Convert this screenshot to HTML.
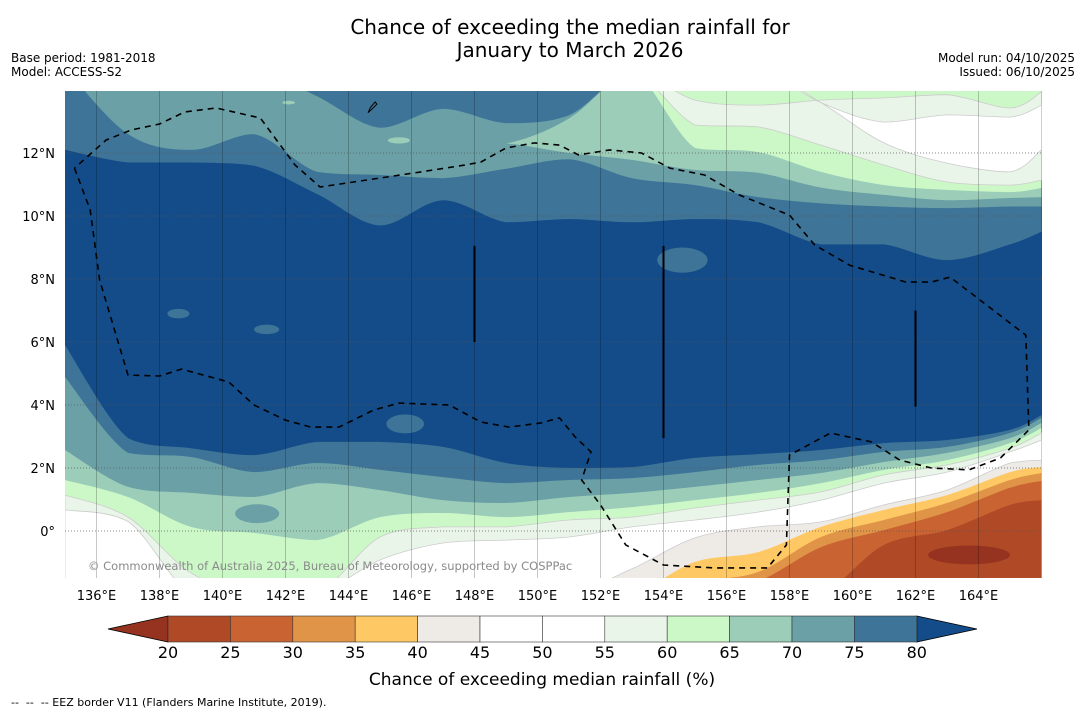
<!DOCTYPE html>
<html><head><meta charset="utf-8"><style>
html,body{margin:0;padding:0;background:#fff;}
svg{display:block;font-family:"DejaVu Sans","Liberation Sans",sans-serif;}
</style></head><body>
<svg id="chart" width="1085" height="713" viewBox="0 0 1085 713" xmlns="http://www.w3.org/2000/svg">
<text x="570" y="34" text-anchor="middle" font-size="20">Chance of exceeding the median rainfall for</text>
<text x="570" y="57" text-anchor="middle" font-size="20">January to March 2026</text>
<text x="11" y="62" font-size="12">Base period: 1981-2018</text>
<text x="11" y="76" font-size="12">Model: ACCESS-S2</text>
<text x="1075" y="62" text-anchor="end" font-size="12">Model run: 04/10/2025</text>
<text x="1075" y="76" text-anchor="end" font-size="12">Issued: 06/10/2025</text>
<defs><clipPath id="mapclip"><rect x="65" y="91" width="977" height="487"/></clipPath></defs>
<g id="map" clip-path="url(#mapclip)"></g>
<g id="axes"></g>
<g id="cbar"></g>
<text x="542" y="685" text-anchor="middle" font-size="17">Chance of exceeding median rainfall (%)</text>
<text x="11" y="706" font-size="11" style="white-space:pre">--  --  -- EEZ border V11 (Flanders Marine Institute, 2019).</text>
</svg>
<script>
const lons = [135,137,139,141,143,145,147,149,151,153,155,157,159,161,163,165,166];
const n80 = [12.1,11.7,11.7,11.6,10.7,9.7,10.5,9.8,9.9,9.8,9.9,9.8,9.1,9.1,8.6,9.1,9.5];
const n70top = [14.7,14.7,14.7,14.7,13.8,12.8,13.4,12.95,13.2,14.7,14.7,14.7,14.7,14.7,14.7,14.7,14.7];
const n70bot = [14.7,12.6,12.1,12.6,11.4,11.3,11.2,11.5,11.8,11.2,10.98,10.6,10.4,10.3,10.25,10.3,10.3];
const n65top = [12.3,12.3,12.3,12.3,12.3,12.3,12.3,12.3,13.1,14.7,14.7,14.7,14.7,14.7,14.7,14.7,14.7];
const n65bot = [12.3,12.3,12.3,12.3,12.3,12.3,12.3,12.3,12.0,11.78,11.46,11.37,10.9,10.67,10.5,10.57,10.6];
const n60top = [14.7,14.7,14.7,14.7,14.7,14.7,14.7,14.7,14.7,14.7,14.7,14.7,14.7,14.7,14.7,14.7,14.7];
const n60bot = [14.7,14.7,14.7,14.7,14.7,14.7,14.7,14.7,14.7,14.7,12.16,12.03,11.4,10.98,10.83,10.76,10.89];
const n55top = [14.7,14.7,14.7,14.7,14.7,14.7,14.7,14.7,14.7,14.7,13.68,13.52,13.68,13.75,13.85,13.43,13.94];
const n55bot = [14.7,14.7,14.7,14.7,14.7,14.7,14.7,14.7,14.7,14.7,12.89,12.83,12.25,11.62,11.08,10.98,11.14];
const n50top = [14.7,14.7,14.7,14.7,14.7,14.7,14.7,14.7,14.7,14.7,14.7,14.7,13.6,12.98,13.21,13.14,13.52];
const n50bot = [14.7,14.7,14.7,14.7,14.7,14.7,14.7,14.7,14.7,14.7,14.7,14.7,13.6,12.32,11.68,11.4,12.1];
const s80 = [5.9,2.95,2.63,2.41,2.83,2.83,2.67,2.16,2.0,2.03,2.32,2.44,2.57,2.79,2.89,3.21,3.68];
const s75 = [4.89,2.48,2.35,1.87,2.16,1.94,1.71,1.52,1.62,1.68,1.87,2.10,2.25,2.51,2.67,3.11,3.59];
const s70 = [2.57,1.40,1.21,1.08,1.52,1.30,0.98,0.89,1.08,1.21,1.40,1.62,1.84,2.19,2.48,2.95,3.43];
const s65 = [1.62,1.08,0.13,-0.06,-0.29,0.44,0.57,0.44,0.60,0.76,0.98,1.21,1.52,1.94,2.25,2.79,3.27];
const s60 = [1.14,0.44,-1.33,-2,-2,-0.19,0.13,0.13,0.35,0.44,0.73,0.98,1.24,1.78,2.10,2.63,3.11];
const s55 = [0.67,0.3,-2,-2,-2,-0.92,-0.38,-0.29,-0.19,0.13,0.35,0.60,0.98,1.52,1.87,2.51,2.89];
const s45 = [-2,-2,-2,-2,-2,-2,-2,-2,-2,-1.2,-0.22,0.13,0.29,0.83,1.30,2.16,2.25];
const s40 = [-2,-2,-2,-2,-2,-2,-2,-2,-2,-2,-0.98,-0.67,0.13,0.67,1.14,1.87,2.03];
const s35 = [-2,-2,-2,-2,-2,-2,-2,-2,-2,-2,-1.6,-1.3,-0.19,0.35,0.89,1.62,1.84];
const s30 = [-2,-2,-2,-2,-2,-2,-2,-2,-2,-2,-2,-1.6,-0.51,0.03,0.6,1.37,1.59];
const s25 = [-2,-2,-2,-2,-2,-2,-2,-2,-2,-2,-2,-2,-2,-0.44,0.03,0.83,0.98];
const patchLon = [154.6,138.6,141.4,145.8,141.1,163.7,145.6,142.1];
const patchLat = [8.6,6.9,6.4,3.4,0.55,-0.76,12.4,13.6];
const patchRLon = [0.8,0.35,0.4,0.6,0.7,1.3,0.35,0.2];
const patchRLat = [0.4,0.15,0.15,0.3,0.3,0.3,0.1,0.06];
const patchCat = ['75','75','75','75','70','lt20','65','65'];
const barLon = [148,154,162];
const barTop = [9.05,9.05,7.0];
const barBot = [6.0,2.95,3.95];
const eezLon = [135.3,135.8,136.1,137.0,138.0,138.7,140.2,141.0,142.0,142.8,143.7,144.8,145.6,147.2,148.2,149.1,150.1,150.7,151.2,151.7,151.4,152.0,152.8,154.0,155.6,157.3,157.9,158.0,159.3,160.6,161.5,162.5,163.7,164.7,165.6,165.5,163.1,162.5,161.7,159.9,158.8,158.0,156.4,155.3,154.2,153.3,152.3,151.3,150.7,149.9,149.0,148.2,147.7,146.3,143.1,142.3,141.2,139.8,138.8,138.0,137.1,136.3,135.3];
const eezLat = [11.52,10.19,7.97,4.95,4.92,5.14,4.73,4.0,3.52,3.30,3.30,3.84,4.06,4.0,3.46,3.30,3.43,3.59,2.98,2.51,1.62,0.83,-0.44,-1.08,-1.17,-1.17,-0.44,2.41,3.11,2.83,2.25,2.0,1.94,2.32,3.21,6.22,8.06,7.90,7.90,8.44,9.08,10.03,10.67,11.30,11.52,12.0,12.1,11.94,12.25,12.32,12.16,11.71,11.62,11.40,10.92,11.62,13.11,13.43,13.30,12.92,12.73,12.41,11.52];
const lonTicks = [136,138,140,142,144,146,148,150,152,154,156,158,160,162,164];
const latTicks = [0,2,4,6,8,10,12];
const cbarLevels = [20,25,30,35,40,45,50,55,60,65,70,75,80];

const COL = {lt20:'#953320','20':'#b04a26','25':'#c96432','30':'#e09448','35':'#fec964','40':'#eeebe6','45':'#ffffff','50':'#ffffff','55':'#eaf5ea','60':'#ccf8c8','65':'#9bcdb8','70':'#6aa0a6','75':'#3e7497','80':'#134c88'};
const NS='http://www.w3.org/2000/svg';
function X(lon){return 65+(lon-135)*31.5;}
function Y(lat){return 531-lat*31.5;}
function mk(tag,attrs,parent){const e=document.createElementNS(NS,tag);for(const k in attrs)e.setAttribute(k,attrs[k]);parent.appendChild(e);return e;}
function clamp(v,a,b){const lo=Math.min(a,b),hi=Math.max(a,b);return Math.max(lo,Math.min(hi,v));}
function seg(p){let d='';for(let i=0;i<p.length-1;i++){const p0=p[i-1]||p[i],p1=p[i],p2=p[i+1],p3=p[i+2]||p2;
 const c1=[p1[0]+(p2[0]-p0[0])/6,clamp(p1[1]+(p2[1]-p0[1])/6,p1[1],p2[1])],c2=[p2[0]-(p3[0]-p1[0])/6,clamp(p2[1]-(p3[1]-p1[1])/6,p1[1],p2[1])];
 d+=` C${c1[0].toFixed(1)},${c1[1].toFixed(1)} ${c2[0].toFixed(1)},${c2[1].toFixed(1)} ${p2[0].toFixed(1)},${p2[1].toFixed(1)}`;}return d;}
function bandPath(top,bot){const t=lons.map((l,i)=>[X(l),Y(top[i])]);const b=lons.map((l,i)=>[X(l),Y(bot[i])]).reverse();
 return `M${t[0][0]},${t[0][1]}`+seg(t)+` L${b[0][0]},${b[0][1]}`+seg(b)+'Z';}
const map=document.getElementById('map');
const bg=mk('rect',{x:65,y:91,width:977,height:487,fill:COL['80']},map);


const top14=lons.map(()=>14.7), bottom=lons.map(()=>-2.2);
const layers=[
 ['75',top14,n80,'north'],['70',n70top,n70bot,'north'],['65',n65top,n65bot,'north'],['60',n60top,n60bot,'north'],['55',n55top,n55bot,'north'],['50',n50top,n50bot,'north'],
 ['75',s80,bottom,'south'],['70',s75,bottom,'south'],['65',s70,bottom,'south'],['60',s65,bottom,'south'],['55',s60,bottom,'south'],['50',s55,bottom,'south'],
 ['40',s45,bottom,'south'],['35',s40,bottom,'south'],['30',s35,bottom,'south'],['25',s30,bottom,'south'],['20',s25,bottom,'south']];
layers.forEach(L=>{
 const light=(L[0]==='55'||L[0]==='50'||L[0]==='40');
 const p=mk('path',{d:bandPath(L[1],L[2]),fill:COL[L[0]],stroke:light?'#cccccc':'none','stroke-width':0.8},map);
 
 
});
patchLon.forEach((lon,i)=>{
 const e=mk('ellipse',{cx:X(lon),cy:Y(patchLat[i]),rx:patchRLon[i]*31.5,ry:patchRLat[i]*31.5,fill:COL[patchCat[i]]},map);
 
 
});
latTicks.forEach(v=>{const l=mk('line',{x1:65,x2:1042,y1:Y(v),y2:Y(v),stroke:'#555','stroke-width':1,'stroke-dasharray':'1,2','stroke-opacity':0.7},map);
 
 });
lonTicks.forEach(v=>{const l=mk('line',{x1:X(v),x2:X(v),y1:91,y2:578,stroke:'#000','stroke-width':1,'stroke-opacity':0.22},map);
 
 });
barLon.forEach((v,i)=>{const l=mk('line',{x1:X(v),x2:X(v),y1:Y(barTop[i]),y2:Y(barBot[i]),stroke:'#000','stroke-width':2},map);
 
 });
const guam=mk('path',{d:`M${X(144.62)},${Y(13.28)} L${X(144.7)},${Y(13.45)} L${X(144.85)},${Y(13.62)} L${X(144.9)},${Y(13.55)} L${X(144.75)},${Y(13.4)} Z`,fill:'none',stroke:'#000','stroke-width':1},map);


const eez=mk('path',{d:'M'+eezLon.map((l,i)=>X(l).toFixed(1)+','+Y(eezLat[i]).toFixed(1)).join(' L'),fill:'none',stroke:'#000','stroke-width':1.6,'stroke-dasharray':'6,5'},map);


const cr=mk('text',{x:88,y:570,'font-size':11.5,fill:'#8a8a8a'},map);
cr.textContent='© Commonwealth of Australia 2025, Bureau of Meteorology, supported by COSPPac';


const ax=document.getElementById('axes');
lonTicks.forEach(v=>{const t=mk('text',{x:X(v),y:600,'text-anchor':'middle','font-size':13},ax);t.textContent=v+'°E';
 
 });
latTicks.forEach(v=>{const t=mk('text',{x:55,y:Y(v)+5,'text-anchor':'end','font-size':13},ax);t.textContent=v===0?'0°':v+'°N';
 
 });
const cb=document.getElementById('cbar');
const cx0=168,cw=62.4,cy0=616,ch=26;
function CX(v){return cx0+(v-20)/5*cw;}
const lt=mk('path',{d:`M${CX(20)},${cy0} L108,${cy0+ch/2} L${CX(20)},${cy0+ch} Z`,fill:COL.lt20,stroke:'#000','stroke-width':0.8},cb);


const rt=mk('path',{d:`M${CX(80)},${cy0} L977,${cy0+ch/2} L${CX(80)},${cy0+ch} Z`,fill:COL['80'],stroke:'#000','stroke-width':0.8},cb);


for(let i=0;i<cbarLevels.length-1;i++){const v=cbarLevels[i];
 const r=mk('rect',{x:CX(v),y:cy0,width:CX(cbarLevels[i+1])-CX(v),height:ch,fill:COL[String(v)],stroke:'#333','stroke-width':0.6},cb);
 
 }
cbarLevels.forEach(v=>{const t=mk('text',{x:CX(v),y:658,'text-anchor':'middle','font-size':16},cb);t.textContent=v;
 
 });
</script>
</body></html>
